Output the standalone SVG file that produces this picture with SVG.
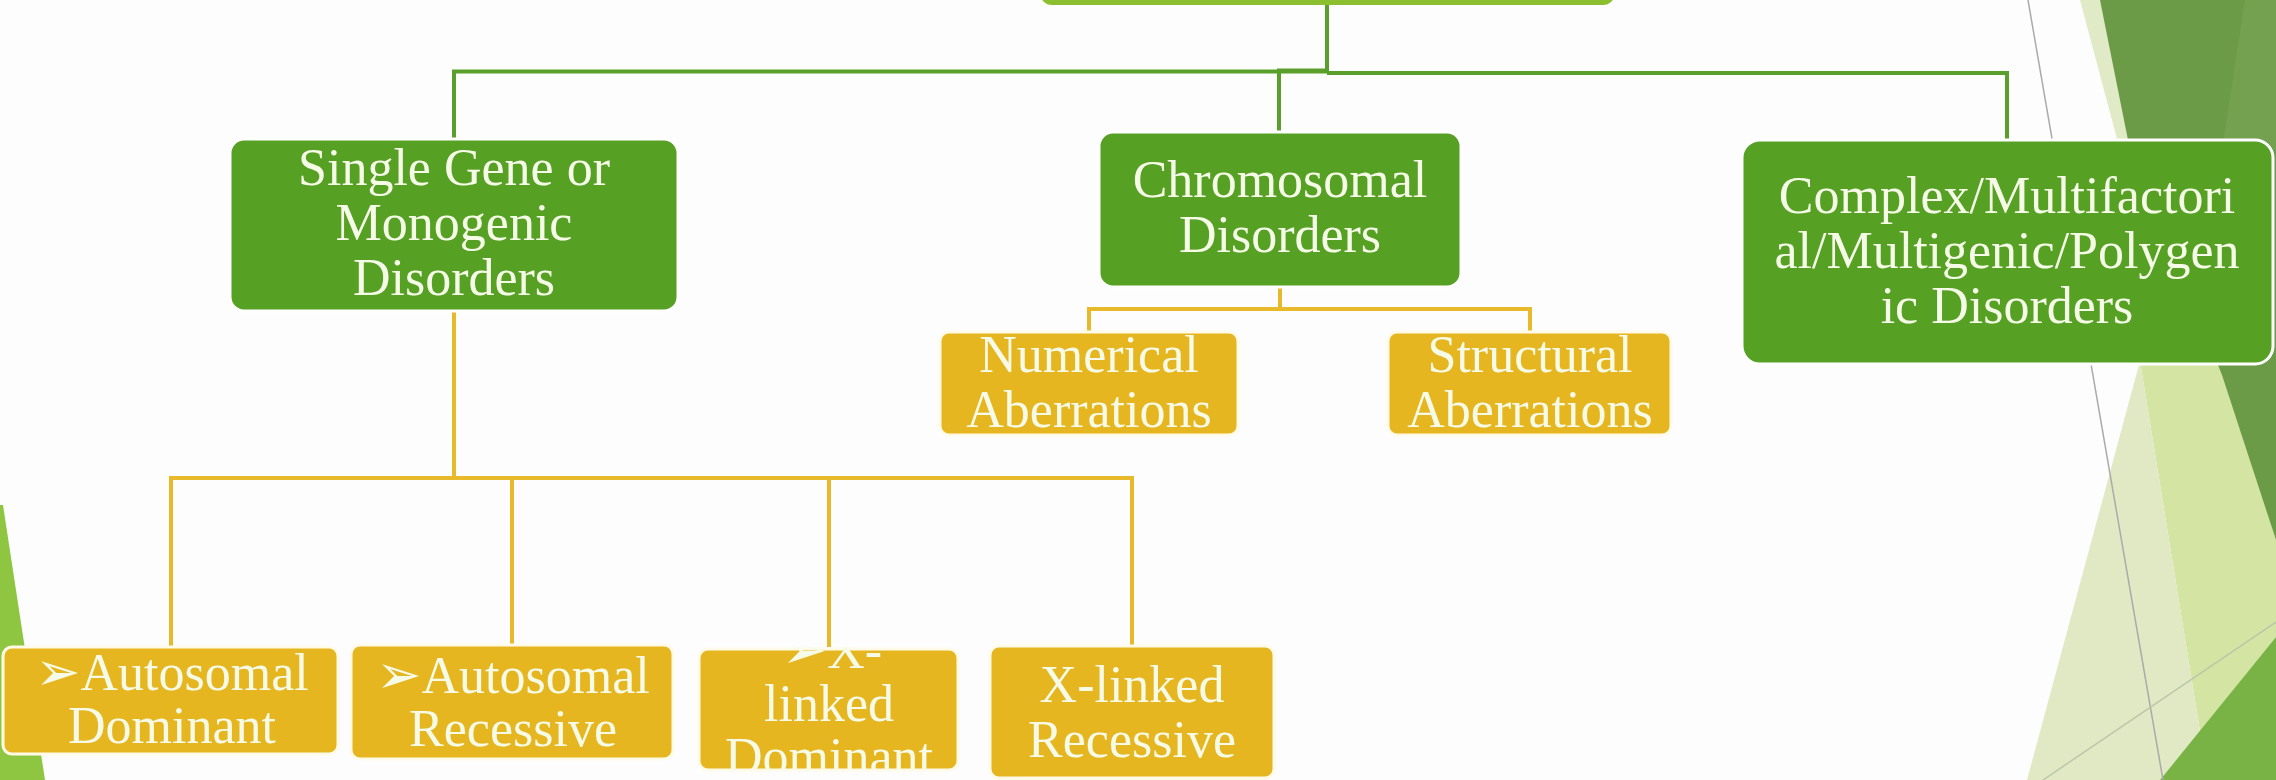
<svg xmlns="http://www.w3.org/2000/svg" width="2276" height="780" viewBox="0 0 2276 780">
<style>
.t{font-family:"Liberation Serif","Times New Roman",serif;font-size:52px;fill:#f6fbe8;text-anchor:middle}
.ar{font-family:"DejaVu Sans",sans-serif;font-size:54px}
.gbox{fill:#56a024;stroke:#ffffff;stroke-width:3}
.ybox{fill:#e6b620;stroke:#fffbe8;stroke-width:3}
.gl{fill:none;stroke:#5a9f2b;stroke-width:4}
.yl{fill:none;stroke:#e8b92a;stroke-width:4}
</style>
<defs>
<clipPath id="clipXD"><rect x="699" y="647" width="259" height="123"/></clipPath>
</defs>
<rect x="0" y="0" width="2276" height="780" fill="#fdfdfd"/>
<g id="background">
<polygon points="0,505 3,505 45,780 0,780" fill="#8ec641"/>
<polygon points="2080,0 2100,0 2140,150 2120,150" fill="#e0eac6"/>
<polygon points="2140,361 2220,361 2226,380 2276,540 2276,637 2200,731" fill="#d3e4a3"/>
<polygon points="2140,361 2200,731 2160,780 2027,780" fill="#e0e9c4"/>
<polygon points="2100,0 2276,0 2276,540 2222,375 2128,140" fill="#6c9b48"/>
<polygon points="2245,0 2276,0 2276,150 2222,150" fill="#74a150"/>
<polygon points="2276,637 2276,780 2160,780" fill="#79b345"/>
<line x1="2028" y1="0" x2="2163" y2="780" stroke="#aaaaaa" stroke-width="1.5"/>
<line x1="2043" y1="780" x2="2276" y2="622" stroke="#bcc6a8" stroke-width="1.5"/>
</g>
<g id="connectors">
<path class="gl" d="M1327,5 V72"/>
<path class="gl" d="M454,139 V71.5 H1327"/>
<path class="gl" d="M1279,132 V70.5 H1327"/>
<path class="gl" d="M1327,73 H2007 V140"/>
<path class="yl" d="M454,311 V478"/>
<path class="yl" d="M171,646 V478 H1132 V646"/>
<path class="yl" d="M512,478 V645"/>
<path class="yl" d="M829,478 V647"/>
<path class="yl" d="M1280,287 V309"/>
<path class="yl" d="M1089,332 V309 H1530 V332"/>
</g>
<g id="root">
<rect x="1040" y="-60" width="575" height="65" rx="12" fill="#8cbf2f"/>
</g>
<g id="single-gene">
<rect class="gbox" x="230" y="139" width="448" height="172" rx="14"/>
<text class="t" x="454" y="185">Single Gene or</text>
<text class="t" x="454" y="240">Monogenic</text>
<text class="t" x="454" y="295">Disorders</text>
</g>
<g id="chromosomal">
<rect class="gbox" x="1099" y="132" width="362" height="155" rx="14"/>
<text class="t" x="1280" y="197">Chromosomal</text>
<text class="t" x="1280" y="252">Disorders</text>
</g>
<g id="complex">
<rect class="gbox" x="1742" y="140" width="531" height="224" rx="18" stroke-width="4"/>
<text class="t" x="2007" y="213">Complex/Multifactori</text>
<text class="t" x="2007" y="268">al/Multigenic/Polygen</text>
<text class="t" x="2007" y="323">ic Disorders</text>
</g>
<g id="numerical">
<rect class="ybox" x="940" y="332" width="298" height="103" rx="9"/>
<text class="t" x="1089" y="372">Numerical</text>
<text class="t" x="1089" y="427">Aberrations</text>
</g>
<g id="structural">
<rect class="ybox" x="1388" y="332" width="283" height="103" rx="9"/>
<text class="t" x="1530" y="372">Structural</text>
<text class="t" x="1530" y="427">Aberrations</text>
</g>
<g id="autosomal-dominant">
<rect class="ybox" x="3" y="647" width="335" height="107" rx="9" stroke-width="4"/>
<text class="t" x="172" y="690"><tspan class="ar">➢</tspan>Autosomal</text>
<text class="t" x="172" y="743">Dominant</text>
</g>
<g id="autosomal-recessive">
<rect class="ybox" x="351" y="645" width="322" height="114" rx="9"/>
<text class="t" x="513" y="693"><tspan class="ar">➢</tspan>Autosomal</text>
<text class="t" x="513" y="746">Recessive</text>
</g>
<g id="x-linked-dominant">
<rect class="ybox" x="699" y="649" width="259" height="121" rx="9"/>
<g clip-path="url(#clipXD)">
<text class="t" x="832" y="668"><tspan class="ar">➢</tspan>X-</text>
<text class="t" x="829" y="721">linked</text>
<text class="t" x="829" y="774">Dominant</text>
</g>
</g>
<g id="x-linked-recessive">
<rect class="ybox" x="990" y="646" width="284" height="132" rx="9"/>
<text class="t" x="1132" y="702">X-linked</text>
<text class="t" x="1132" y="757">Recessive</text>
</g>
</svg>
